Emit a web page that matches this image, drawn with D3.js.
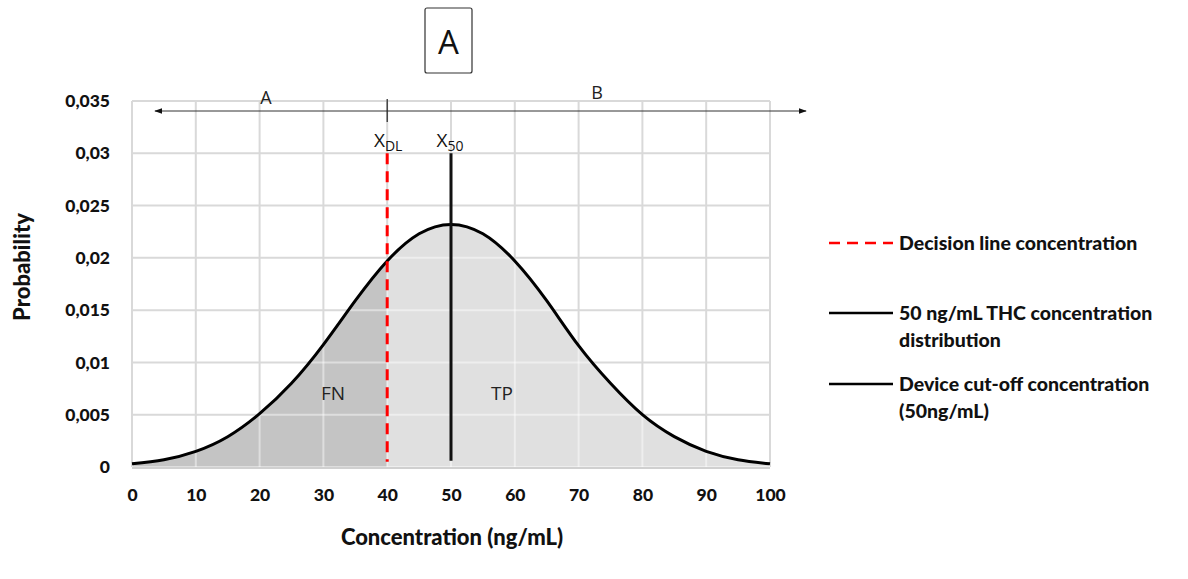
<!DOCTYPE html>
<html><head><meta charset="utf-8">
<script src="https://cdn.jsdelivr.net/npm/d3@7"></script>
<style>body{margin:0;background:#fff}svg{display:block}</style>
</head><body>
<svg id="c" width="1188" height="579"></svg>
<script>
// ---- data ----
const concentration = [0,5,10,15,20,25,30,35,40,45,50,55,60,65,70,75,80,85,90,95,100];
const probability   = [0.0003,0.0007,0.0015,0.0029,0.0051,0.0080,0.0117,0.0159,0.0197,0.0223,0.0232,0.0223,0.0197,0.0159,0.0116,0.0080,0.0050,0.0029,0.0015,0.0007,0.0003];
const xTicks = [0,10,20,30,40,50,60,70,80,90,100];
const yTicks = [0,0.005,0.01,0.015,0.02,0.025,0.03,0.035];
const yTickLabels = ["0","0,005","0,01","0,015","0,02","0,025","0,03","0,035"];
const decisionLine = 40;
const cutoffLine = 50;
const markerTop = 0.03;
const legendItems = [
  {lines:["Decision line concentration"], color:"#ff0000", dash:"11,7"},
  {lines:["50 ng/mL THC concentration","distribution"], color:"#000", dash:null},
  {lines:["Device cut-off concentration","(50ng/mL)"], color:"#000", dash:null}
];

const svg = d3.select("#c");
const L=132,R=770,T=101,B=467;
const x = d3.scaleLinear().domain([0,100]).range([L,R]);
const y = d3.scaleLinear().domain([0,0.035]).range([B,T]);
const pts = concentration.map((c,i)=>({c,p:probability[i]}));
const font = "Lato, 'Open Sans', sans-serif";

// grid
const grid = svg.append("g");
grid.selectAll(".vx").data(xTicks).join("line")
  .attr("x1",d=>x(d)).attr("x2",d=>x(d)).attr("y1",T).attr("y2",B)
  .attr("stroke","#d9d9d9").attr("stroke-width",2);
grid.selectAll(".hy").data(yTicks).join("line")
  .attr("x1",L).attr("x2",R).attr("y1",d=>y(d)).attr("y2",d=>y(d))
  .attr("stroke","#d9d9d9").attr("stroke-width",2);

// fills
const curve = d3.curveNatural;
const area = d3.area().x(d=>x(d.c)).y0(y(0)).y1(d=>y(d.p)).curve(curve);
const defs = svg.append("defs");
defs.append("clipPath").attr("id","fn").append("rect")
  .attr("x",x(0)).attr("y",T).attr("width",x(decisionLine)-x(0)).attr("height",B-T);
defs.append("clipPath").attr("id","tp").append("rect")
  .attr("x",x(decisionLine)).attr("y",T).attr("width",x(100)-x(decisionLine)).attr("height",B-T);
defs.append("clipPath").attr("id","under").append("path").attr("d",area(pts));
svg.append("path").attr("d",area(pts)).attr("fill","#c4c4c4").attr("clip-path","url(#fn)");
svg.append("path").attr("d",area(pts)).attr("fill","#e0e0e0").attr("clip-path","url(#tp)");
// lighter grid over fill
const g2 = svg.append("g").attr("clip-path","url(#under)");
g2.selectAll("line.v").data(xTicks).join("line").attr("class","v")
  .attr("x1",d=>x(d)).attr("x2",d=>x(d)).attr("y1",T).attr("y2",B)
  .attr("stroke","#fff").attr("stroke-opacity",0.45).attr("stroke-width",2);
g2.selectAll("line.h").data(yTicks).join("line").attr("class","h")
  .attr("x1",L).attr("x2",R).attr("y1",d=>y(d)).attr("y2",d=>y(d))
  .attr("stroke","#fff").attr("stroke-opacity",0.45).attr("stroke-width",2);

// bottom axis line
svg.append("line").attr("x1",L).attr("x2",R).attr("y1",B+1).attr("y2",B+1).attr("stroke","#d0d0d0").attr("stroke-width",2);

// curve
svg.append("path").attr("d",d3.line().x(d=>x(d.c)).y(d=>y(d.p)).curve(curve)(pts))
  .attr("fill","none").attr("stroke","#000").attr("stroke-width",3);

// marker lines
svg.append("line").attr("x1",x(decisionLine)).attr("x2",x(decisionLine)).attr("y1",y(markerTop)).attr("y2",y(0.0005))
  .attr("stroke","#ff0000").attr("stroke-width",3).attr("stroke-dasharray","11,7");
svg.append("line").attr("x1",x(cutoffLine)).attr("x2",x(cutoffLine)).attr("y1",y(markerTop)).attr("y2",y(0.0006))
  .attr("stroke","#111").attr("stroke-width",3);

// axes labels
const yAxis = d3.axisLeft(y).tickValues(yTicks).tickFormat((d,i)=>yTickLabels[i]).tickSize(0).tickPadding(22);
const ya = svg.append("g").attr("transform",`translate(${L},0)`).call(yAxis);
ya.select(".domain").remove();
ya.selectAll("text").attr("font-family",font).attr("font-weight",900).attr("font-size",17.5).attr("fill","#111");
const xAxis = d3.axisBottom(x).tickValues(xTicks).tickSize(0).tickPadding(22);
const xa = svg.append("g").attr("transform",`translate(0,${B})`).call(xAxis);
xa.select(".domain").remove();
xa.selectAll("text").attr("font-family",font).attr("font-weight",900).attr("font-size",17.5).attr("fill","#111");

svg.append("text").attr("x",452).attr("y",545).attr("text-anchor","middle")
  .attr("font-family",font).attr("font-weight",900).attr("font-size",22).attr("fill","#111")
  .text("Concentration (ng/mL)");
svg.append("text").attr("transform","translate(30,267) rotate(-90)").attr("text-anchor","middle")
  .attr("font-family",font).attr("font-weight",900).attr("font-size",22).attr("fill","#111")
  .text("Probability");

// region labels
const lf = "'Open Sans', sans-serif";
svg.append("text").attr("x",333).attr("y",400).attr("text-anchor","middle").attr("font-family",lf).attr("font-size",19).attr("fill","#222").text("FN");
svg.append("text").attr("x",502).attr("y",400).attr("text-anchor","middle").attr("font-family",lf).attr("font-size",19).attr("fill","#222").text("TP");

// X_DL and X_50
function sublabel(cx, main, sub){
  const t = svg.append("text").attr("x",cx).attr("y",147).attr("text-anchor","middle").attr("font-family",lf).attr("font-size",19).attr("fill","#111");
  t.append("tspan").text(main);
  t.append("tspan").attr("font-size",14).attr("dy",4).text(sub);
}
sublabel(x(decisionLine)+1,"X","DL");
sublabel(x(cutoffLine)-1,"X","50");

// arrows A/B
defs.append("marker").attr("id","ah").attr("viewBox","0 0 10 10").attr("refX",9).attr("refY",5)
  .attr("markerWidth",8).attr("markerHeight",8).attr("orient","auto-start-reverse")
  .append("path").attr("d","M0,1.5 L10,5 L0,8.5 Z").attr("fill","#111");
const ay = 111;
svg.append("line").attr("x1",x(decisionLine)).attr("x2",155).attr("y1",ay).attr("y2",ay)
  .attr("stroke","#333").attr("stroke-width",1).attr("marker-end","url(#ah)");
svg.append("line").attr("x1",x(decisionLine)).attr("x2",806).attr("y1",ay).attr("y2",ay)
  .attr("stroke","#333").attr("stroke-width",1).attr("marker-end","url(#ah)");
svg.append("line").attr("x1",x(decisionLine)).attr("x2",x(decisionLine)).attr("y1",99).attr("y2",122)
  .attr("stroke","#222").attr("stroke-width",1.2);
svg.append("text").attr("x",266).attr("y",104).attr("text-anchor","middle").attr("font-family",lf).attr("font-size",18).attr("fill","#222").text("A");
svg.append("text").attr("x",597).attr("y",99).attr("text-anchor","middle").attr("font-family",lf).attr("font-size",18).attr("fill","#222").text("B");

// panel box
svg.append("rect").attr("x",425).attr("y",8).attr("width",47).attr("height",65).attr("rx",2)
  .attr("fill","#fff").attr("stroke","#333").attr("stroke-width",1.2);
svg.append("text").attr("x",448.5).attr("y",54).attr("text-anchor","middle").attr("font-family",lf).attr("font-size",33).attr("fill","#111").text("A");

// legend
const legY = [243,313,384];
legendItems.forEach((it,i)=>{
  svg.append("line").attr("x1",829).attr("x2",893).attr("y1",legY[i]).attr("y2",legY[i])
    .attr("stroke",it.color).attr("stroke-width",2.5).attr("stroke-dasharray",it.dash);
  it.lines.forEach((s,j)=>{
    svg.append("text").attr("x",899).attr("y",legY[i]+7+j*27).attr("font-family",font).attr("font-weight",900)
      .attr("font-size",19.5).attr("fill","#111").text(s);
  });
});
</script>
</body></html>
